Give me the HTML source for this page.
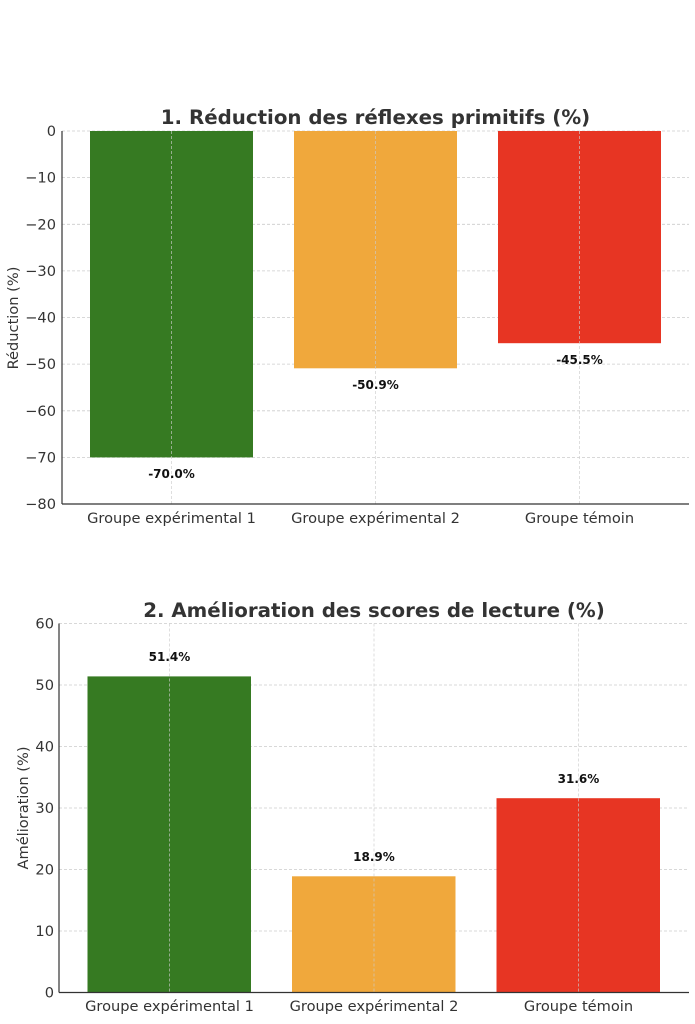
<!DOCTYPE html>
<html><head><meta charset="utf-8"><style>body{margin:0;background:#fff}svg{display:block}text{font-family:"DejaVu Sans","Liberation Sans",sans-serif}</style></head>
<body>
<svg width="695" height="1024" viewBox="0 0 695 1024" xmlns="http://www.w3.org/2000/svg">
<g stroke="#ccc" stroke-width="0.8" stroke-dasharray="3,2">
<line x1="62" x2="689" y1="131" y2="131"/><line x1="62" x2="689" y1="177.6" y2="177.6"/><line x1="62" x2="689" y1="224.3" y2="224.3"/><line x1="62" x2="689" y1="270.9" y2="270.9"/><line x1="62" x2="689" y1="317.5" y2="317.5"/><line x1="62" x2="689" y1="364.1" y2="364.1"/><line x1="62" x2="689" y1="410.8" y2="410.8"/><line x1="62" x2="689" y1="457.4" y2="457.4"/>
</g>
<rect x="90" y="131" width="163" height="326.4" fill="#367a22"/>
<rect x="294" y="131" width="163" height="237.3" fill="#f0a83c"/>
<rect x="498" y="131" width="163" height="212.2" fill="#e73523"/>
<g stroke="#ccc" stroke-width="0.8" stroke-dasharray="3,2" opacity="0.8">
<line x1="171.5" x2="171.5" y1="131" y2="504"/><line x1="375.5" x2="375.5" y1="131" y2="504"/><line x1="579.5" x2="579.5" y1="131" y2="504"/>
</g>
<g stroke="#333" stroke-width="1.2" fill="none"><line x1="62" y1="131" x2="62" y2="504"/><line x1="62" y1="504" x2="689" y2="504"/></g>
<g font-size="14.6" fill="#333" text-anchor="end">
<text x="56" y="136">0</text><text x="56" y="182.6">−10</text><text x="56" y="229.3">−20</text><text x="56" y="275.9">−30</text><text x="56" y="322.5">−40</text><text x="56" y="369.1">−50</text><text x="56" y="415.8">−60</text><text x="56" y="462.4">−70</text><text x="56" y="509">−80</text>
</g>
<g font-size="14.6" fill="#333" text-anchor="middle"><text x="171.5" y="523">Groupe expérimental 1</text><text x="375.5" y="523">Groupe expérimental 2</text><text x="579.5" y="523">Groupe témoin</text></g>
<text transform="translate(18,318) rotate(-90)" font-size="14.6" fill="#333" text-anchor="middle">Réduction (%)</text>
<text x="375.5" y="124" font-size="19.8" font-weight="bold" fill="#333" text-anchor="middle">1. Réduction des réflexes primitifs (%)</text>
<g font-size="12" font-weight="bold" fill="#111" text-anchor="middle"><text x="171.5" y="478">-70.0%</text><text x="375.5" y="389">-50.9%</text><text x="579.5" y="364">-45.5%</text></g>

<g stroke="#ccc" stroke-width="0.8" stroke-dasharray="3,2">
<line x1="59" x2="689" y1="623.5" y2="623.5"/><line x1="59" x2="689" y1="685" y2="685"/><line x1="59" x2="689" y1="746.5" y2="746.5"/><line x1="59" x2="689" y1="808" y2="808"/><line x1="59" x2="689" y1="869.5" y2="869.5"/><line x1="59" x2="689" y1="931" y2="931"/>
</g>
<rect x="87.5" y="676.4" width="163.5" height="316.1" fill="#367a22"/>
<rect x="292" y="876.3" width="163.5" height="116.2" fill="#f0a83c"/>
<rect x="496.5" y="798.2" width="163.5" height="194.3" fill="#e73523"/>
<g stroke="#ccc" stroke-width="0.8" stroke-dasharray="3,2" opacity="0.8">
<line x1="169.5" x2="169.5" y1="623.5" y2="992.5"/><line x1="374" x2="374" y1="623.5" y2="992.5"/><line x1="578.5" x2="578.5" y1="623.5" y2="992.5"/>
</g>
<g stroke="#333" stroke-width="1.2" fill="none"><line x1="59" y1="623.5" x2="59" y2="992.5"/><line x1="59" y1="992.5" x2="689" y2="992.5"/></g>
<g font-size="14.6" fill="#333" text-anchor="end">
<text x="54" y="628.5">60</text><text x="54" y="690">50</text><text x="54" y="751.5">40</text><text x="54" y="813">30</text><text x="54" y="874.5">20</text><text x="54" y="936">10</text><text x="54" y="997.5">0</text>
</g>
<g font-size="14.6" fill="#333" text-anchor="middle"><text x="169.5" y="1011">Groupe expérimental 1</text><text x="374" y="1011">Groupe expérimental 2</text><text x="578.5" y="1011">Groupe témoin</text></g>
<text transform="translate(28,808) rotate(-90)" font-size="14.6" fill="#333" text-anchor="middle">Amélioration (%)</text>
<text x="374" y="617" font-size="19.8" font-weight="bold" fill="#333" text-anchor="middle">2. Amélioration des scores de lecture (%)</text>
<g font-size="12" font-weight="bold" fill="#111" text-anchor="middle"><text x="169.5" y="661">51.4%</text><text x="374" y="861">18.9%</text><text x="578.5" y="783">31.6%</text></g>
</svg>
</body></html>
